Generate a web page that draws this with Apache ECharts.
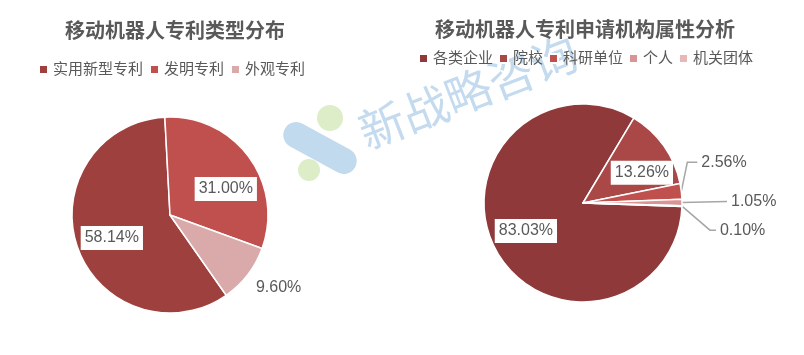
<!DOCTYPE html>
<html>
<head>
<meta charset="utf-8">
<script src="https://cdn.jsdelivr.net/npm/echarts@6/dist/echarts.min.js"></script>
<style>
  html, body { margin: 0; padding: 0; background: #fff; }
  #chart { width: 804px; height: 355px; }
</style>
</head>
<body>
<div id="chart"></div>
<script>
// 左图：专利类型
const typeNames = ['实用新型专利', '发明专利', '外观专利']
const typeValues = [58.14, 31.00, 9.60]
const typeColors = ['#9E403D', '#C0504D', '#DAA9A9']

// 右图：申请机构属性
const orgNames = ['各类企业', '院校', '科研单位', '个人', '机关团体']
const orgValues = [83.03, 13.26, 2.56, 1.05, 0.10]
const orgColors = ['#8F393A', '#A94846', '#C0504D', '#D99594', '#E6B9B8']

const FONT = '"Liberation Sans", "Noto Sans CJK SC", sans-serif'
const TEXT = '#595959'

const boxLabel = {
  show: true,
  position: 'inside',
  formatter: p => p.value.toFixed(2) + '%',
  color: TEXT,
  fontSize: 16,
  fontFamily: FONT,
  backgroundColor: '#fff',
  padding: [5, 4, 3, 4]
}
const plainLabel = {
  show: true,
  position: 'outside',
  formatter: p => p.value.toFixed(2) + '%',
  color: TEXT,
  fontSize: 16,
  fontFamily: FONT
}

const typeData = typeNames.map((name, i) => ({
  name,
  value: typeValues[i],
  label: i === 2 ? plainLabel : boxLabel,
  labelLine: { show: false, length: 4, length2: 0 }
}))

const orgData = orgNames.map((name, i) => ({
  name,
  value: orgValues[i],
  label: i < 2 ? boxLabel : plainLabel,
  labelLine: { show: i >= 2, length: 14, length2: 10, lineStyle: { color: '#A6A6A6', width: 1.5 } }
}))

// 标签微调（相对默认位置）
const typeShift = [[-9, 6], [14, 5], [0, 11]]
const orgShift = [[-11, 3], [16, 0]]

const chart = echarts.init(document.getElementById('chart'))
chart.setOption({
  animation: false,
  textStyle: { fontFamily: FONT },
  // 水印
  graphic: [
    {
      type: 'rect', z: -10, x: 320, y: 148, rotation: -0.5,
      shape: { x: -40, y: -13, width: 80, height: 26, r: 13 },
      style: { fill: '#C2DAEE' }
    },
    { type: 'circle', z: -10, shape: { cx: 330, cy: 118, r: 13 }, style: { fill: '#DDEDC8' } },
    { type: 'circle', z: -10, shape: { cx: 309, cy: 170, r: 11 }, style: { fill: '#DDEDC8' } },
    {
      type: 'text', z: -10, x: 468, y: 92, rotation: 0.37,
      style: {
        text: '新战略咨询', fill: '#C4DBEF', fontSize: 46,
        fontFamily: '"Noto Sans CJK SC"', align: 'center', verticalAlign: 'middle'
      }
    }
  ],
  title: [
    {
      text: '移动机器人专利类型分布',
      left: 170, top: 17, textAlign: 'center',
      textStyle: { fontSize: 20, fontWeight: 'bold', color: TEXT, fontFamily: FONT }
    },
    {
      text: '移动机器人专利申请机构属性分析',
      left: 580, top: 16, textAlign: 'center',
      textStyle: { fontSize: 20, fontWeight: 'bold', color: TEXT, fontFamily: FONT }
    }
  ],
  legend: [
    {
      data: typeNames,
      left: 33, top: 57,
      icon: 'rect', itemWidth: 9, itemHeight: 9, itemGap: 6,
      textStyle: { color: TEXT, fontSize: 15, fontFamily: FONT }
    },
    {
      data: orgNames,
      left: 413, top: 46,
      icon: 'rect', itemWidth: 9, itemHeight: 9, itemGap: 5,
      textStyle: { color: TEXT, fontSize: 15, fontFamily: FONT }
    }
  ],
  series: [
    {
      type: 'pie',
      center: [170, 215],
      radius: [0, 98],
      startAngle: 305,
      avoidLabelOverlap: false,
      color: typeColors,
      itemStyle: { borderColor: '#fff', borderWidth: 1.5 },
      labelLayout: p => ({ dx: typeShift[p.dataIndex][0], dy: typeShift[p.dataIndex][1] }),
      data: typeData
    },
    {
      type: 'pie',
      center: [583, 203],
      radius: [0, 99],
      startAngle: -2,
      avoidLabelOverlap: false,
      color: orgColors,
      itemStyle: { borderColor: '#fff', borderWidth: 1.5 },
      labelLayout: p => {
        if (p.dataIndex < 2) return { dx: orgShift[p.dataIndex][0], dy: orgShift[p.dataIndex][1] }
        // 小扇区的引导线：从扇区边缘折到标签左侧
        const s = p.labelLinePoints[0]
        let ty, bend
        if (p.dataIndex === 2) { ty = s[1] - 29; bend = [s[0] + 6, ty] }
        else if (p.dataIndex === 3) { ty = s[1] - 1; bend = null }
        else { ty = s[1] + 24; bend = [s[0] + 28, ty] }
        const tx = p.dataIndex === 3 ? s[0] + 49 : (p.dataIndex === 2 ? s[0] + 20 : s[0] + 38)
        const pts = [s]
        if (bend) pts.push(bend)
        pts.push([tx - 4, ty])
        return { x: tx, y: ty, align: 'left', verticalAlign: 'middle', labelLinePoints: pts }
      },
      data: orgData
    }
  ]
})
</script>
</body>
</html>
